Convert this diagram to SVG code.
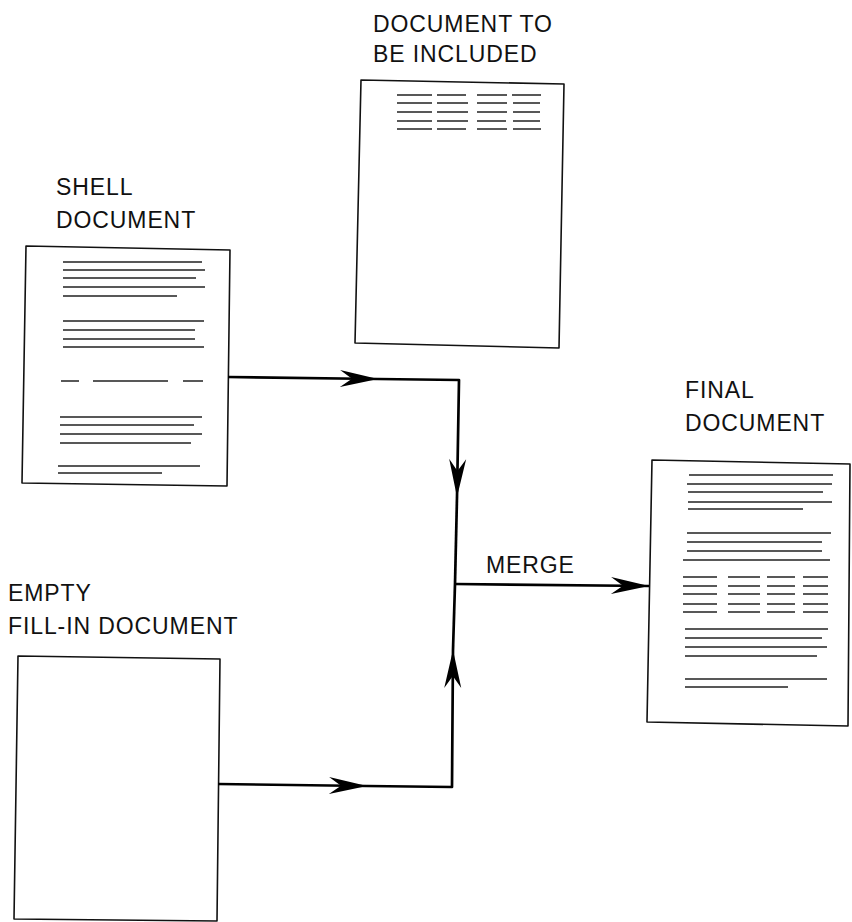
<svg xmlns="http://www.w3.org/2000/svg" width="852" height="922" viewBox="0 0 852 922">
<style>
.lbl{font-family:"Liberation Sans",Arial,sans-serif;font-size:23px;letter-spacing:0.9px;fill:#111}
.page{fill:#fff;stroke:#111;stroke-width:1.6;stroke-linejoin:round}
.tl{stroke:#222;stroke-width:1.4;fill:none}
.conn{stroke:#000;stroke-width:2.7;fill:none;stroke-linejoin:round}
</style>
<defs>
<marker id="ah" markerUnits="userSpaceOnUse" markerWidth="42" markerHeight="22" viewBox="-41 -11 42 22" refX="0" refY="0" orient="auto">
<path d="M0,0 L-38,-8.5 L-26,0 L-38,8.5 Z" fill="#000"/>
</marker>
</defs>
<rect width="852" height="922" fill="#fff"/>

<g id="include-doc">
<text class="lbl" x="373" y="32">DOCUMENT TO</text>
<text class="lbl" x="373" y="62">BE INCLUDED</text>
<path class="page" d="M361,80 L564,84 L559,348 L355,343 Z"/>
<g class="tl">
<path d="M397,95H432M437,95H466M477,95H507M512,95H541"/>
<path d="M397,103H432M437,103H468M477,103H507M513,103H540"/>
<path d="M397,112H432M437,112H468M477,112H507M513,112H540"/>
<path d="M397,121H432M437,121H468M477,121H506M513,121H540"/>
<path d="M397,129H432M437,129H466M477,129H507M513,129H541"/>
</g>
</g>

<g id="shell-doc">
<text class="lbl" x="56" y="195">SHELL</text>
<text class="lbl" x="56" y="228">DOCUMENT</text>
<path class="page" d="M26,246 L230,250 L227,486 L22,483 Z"/>
<g class="tl">
<path d="M63,262H202M63,270H205M63,278H196M63,287H205M63,296H177"/>
<path d="M63,321H204M63,330H195M63,339H195M63,347H204"/>
<path d="M61,381H79M93,381H168M183,381H203"/>
<path d="M60,417H202M60,425H194M60,434H202M60,443H191"/>
<path d="M58,466H200M58,473H162"/>
</g>
</g>

<g id="empty-doc">
<text class="lbl" x="8" y="601">EMPTY</text>
<text class="lbl" x="8" y="634">FILL-IN DOCUMENT</text>
<path class="page" d="M18,656 L220,659 L217,921 L14,919 Z"/>
</g>

<g id="final-doc">
<text class="lbl" x="685" y="398">FINAL</text>
<text class="lbl" x="685" y="431">DOCUMENT</text>
<path class="page" d="M652,460 L850,464 L848,726 L647,722 Z"/>
<g class="tl">
<path d="M689,475H833M687,484H832M688,492H823M688,502H832M688,509H803"/>
<path d="M687,533H831M687,542H822M687,551H822M683,560H830"/>
<path d="M683,577H717M728,577H760M767,577H795M803,577H828"/>
<path d="M683,586H717M728,586H760M767,586H795M803,586H828"/>
<path d="M683,594H717M728,594H760M767,594H795M803,594H828"/>
<path d="M683,604H717M728,604H760M767,604H795M803,604H828"/>
<path d="M683,612H717M728,612H760M767,612H795M803,612H828"/>
<path d="M685,629H828M685,638H822M685,647H827M685,656H817"/>
<path d="M685,679H827M685,687H788"/>
</g>
</g>

<g id="connectors">
<path class="conn" d="M228,377 L378,379" marker-end="url(#ah)"/>
<path class="conn" d="M378,379 L459,380 L457,497" marker-end="url(#ah)"/>
<path class="conn" d="M457,497 L455,584"/>
<path class="conn" d="M218,784 L367,786" marker-end="url(#ah)"/>
<path class="conn" d="M367,786 L452,787 L453,650" marker-end="url(#ah)"/>
<path class="conn" d="M453,650 L455,584"/>
<path class="conn" d="M455,584 L649,586" marker-end="url(#ah)"/>
<text class="lbl" x="486" y="573">MERGE</text>
</g>
</svg>
